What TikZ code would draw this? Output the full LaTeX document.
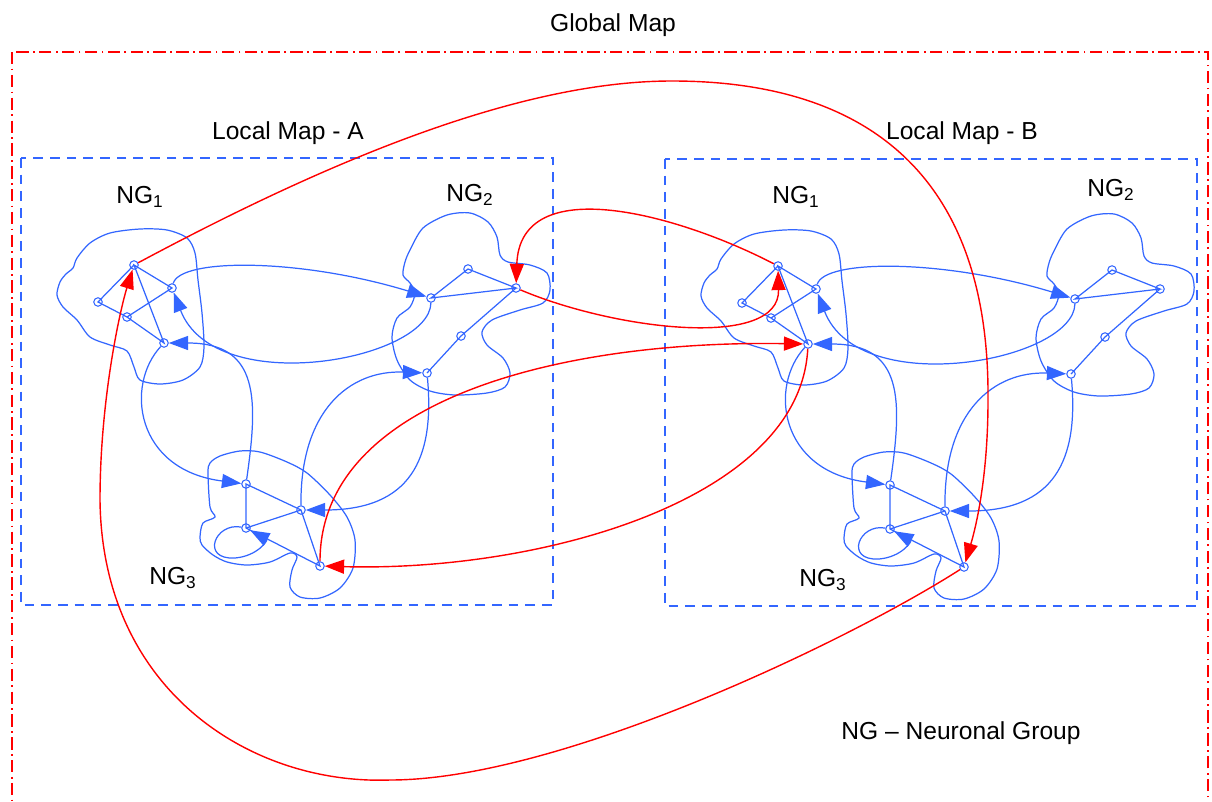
\documentclass[tikz,border=0pt]{standalone}
\usepackage{fontspec}
\setmainfont{Liberation Sans}
\usetikzlibrary{arrows.meta}
\definecolor{nblue}{RGB}{51,102,255}
\definecolor{nred}{RGB}{255,0,0}

\newcommand{\localmap}[1]{%
  \draw[lmap] (21,158) rectangle (553,605);
  \draw[blob] plot[smooth cycle] coordinates {(73,268) (77,258) (90,243) (110,233) (140,229) (167,230) (187,238) (195,253) (198,280) (202,313) (204,347) (200,367) (183,380) (160,384) (140,380) (134,367) (127,351) (110,345) (90,337) (77,320) (63,307) (57,295) (60,282) (66,274)};
  \draw[blob] plot[smooth cycle] coordinates {(405,262) (410,250) (423,228) (447,215) (470,213) (488,222) (497,237) (500,255) (508,262) (530,265) (547,273) (550,290) (543,303) (520,310) (492,320) (482,332) (487,345) (503,358) (510,373) (505,387) (487,393) (455,395) (430,391) (410,380) (397,360) (392,337) (397,318) (410,307) (415,293) (410,283) (403,275)};
  \draw[blob] plot[smooth cycle] coordinates {(210,463) (220,456) (240,451) (260,452) (287,462) (307,473) (330,495) (347,517) (355,540) (353,568) (340,588) (320,598) (300,597) (290,587) (292,570) (297,557) (290,553) (270,562) (247,565) (227,562) (213,555) (202,545) (200,537) (203,523) (215,517) (210,507) (208,473)};
  \node[neuron] (#1-g1t) at (134,265) {};
  \node[neuron] (#1-g1l) at (98,302) {};
  \node[neuron] (#1-g1m) at (127,317) {};
  \node[neuron] (#1-g1r) at (172,288) {};
  \node[neuron] (#1-g1b) at (164,343) {};
  \node[neuron] (#1-g2l) at (431,298) {};
  \node[neuron] (#1-g2t) at (468,269) {};
  \node[neuron] (#1-g2r) at (516,288) {};
  \node[neuron] (#1-g2m) at (461,336) {};
  \node[neuron] (#1-g2b) at (427,373) {};
  \node[neuron] (#1-g3a) at (246,484) {};
  \node[neuron] (#1-g3r) at (301,510) {};
  \node[neuron] (#1-g3l) at (246,528) {};
  \node[neuron] (#1-g3b) at (320,566) {};
  \draw[syn] (#1-g1t.center) -- (#1-g1l.center) -- (#1-g1m.center) -- (#1-g1r.center) -- (#1-g1t.center) -- (#1-g1b.center) -- (#1-g1m.center);
  \draw[syn] (#1-g2l.center) -- (#1-g2t.center) -- (#1-g2r.center) -- cycle;
  \draw[syn] (#1-g2r.center) -- (#1-g2m.center) -- (#1-g2b.center);
  \draw[syn] (#1-g3a.center) -- (#1-g3r.center) -- (#1-g3b.center) -- (#1-g3l.center) -- cycle;
  \draw[syn] (#1-g3l.center) -- (#1-g3r.center);
  \draw[link] (#1-g1r) .. controls (180,258) and (300,258) .. (#1-g2l);
  \draw[link] (#1-g2l) .. controls (430,360) and (215,400) .. (#1-g1r);
  \draw[link] (#1-g3a) .. controls (258,400) and (260,343) .. (#1-g1b);
  \draw[link] (#1-g1b) .. controls (125,385) and (135,470) .. (#1-g3a);
  \draw[link] (#1-g3r) .. controls (300,410) and (350,370) .. (#1-g2b);
  \draw[link] (#1-g2b) .. controls (435,460) and (410,510) .. (#1-g3r);
  \draw[link] (#1-g3l) .. controls (215,522) and (200,560) .. (235,558) .. controls (258,556) and (268,540) .. (#1-g3l);
}

\begin{document}
\begin{tikzpicture}[x=0.02cm, y=-0.02cm,
    lbl/.style={font=\fontsize{14}{16}\selectfont},
    neuron/.style={circle, draw=nblue, line width=0.6pt, inner sep=0pt, minimum size=0.17cm},
    blob/.style={draw=nblue, line width=0.7pt},
    syn/.style={draw=nblue, line width=0.7pt},
    link/.style={draw=nblue, line width=0.7pt, -{Triangle[length=11pt,width=8pt]}},
    glink/.style={draw=nred, line width=0.8pt, -{Triangle[length=11pt,width=8pt]}},
    lmap/.style={draw=nblue, line width=0.7pt, dash pattern=on 5.5pt off 4pt},
    gmap/.style={draw=nred, line width=0.6pt, dash pattern=on 7pt off 2.5pt on 1pt off 2.5pt}]
  \useasboundingbox (0,0) rectangle (1212,801);
  \clip (0,0) rectangle (1212,801);
  \draw[gmap] (12,52) rectangle (1208,840);
  \node[lbl] (gtitle) at (613,25) {Global Map};
  \node[lbl] (titleA) at (288,133) {Local Map - A};
  \node[lbl] (titleB) at (962,133) {Local Map - B};
  \node[lbl] (legend) at (961,733) {NG – Neuronal Group};

  \localmap{A}
  \begin{scope}[shift={(644,1)}]
    \localmap{B}
  \end{scope}

  \node[lbl] (A-ng1) at (140,197) {NG\textsubscript{1}};
  \node[lbl] (A-ng2) at (470,195) {NG\textsubscript{2}};
  \node[lbl] (A-ng3) at (173,578) {NG\textsubscript{3}};
  \node[lbl] (B-ng1) at (796,197) {NG\textsubscript{1}};
  \node[lbl] (B-ng2) at (1111,190) {NG\textsubscript{2}};
  \node[lbl] (B-ng3) at (823,580) {NG\textsubscript{3}};

  \draw[glink] (A-g1t) .. controls (330,160) and (520,81) .. (672,81) .. controls (850,81) and (990,160) .. (988,400) .. controls (988,480) and (975,530) .. (B-g3b);
  \draw[glink] (B-g3b) .. controls (850,640) and (560,780) .. (390,780) .. controls (250,785) and (102,690) .. (100,500) .. controls (100,400) and (120,310) .. (A-g1t);
  \draw[glink] (B-g1t) .. controls (680,215) and (520,170) .. (A-g2r);
  \draw[glink] (A-g2r) .. controls (615,330) and (780,350) .. (B-g1t);
  \draw[glink] (A-g3b) .. controls (320,400) and (560,340) .. (B-g1b);
  \draw[glink] (B-g1b) .. controls (800,500) and (540,572) .. (A-g3b);
\end{tikzpicture}
\end{document}
